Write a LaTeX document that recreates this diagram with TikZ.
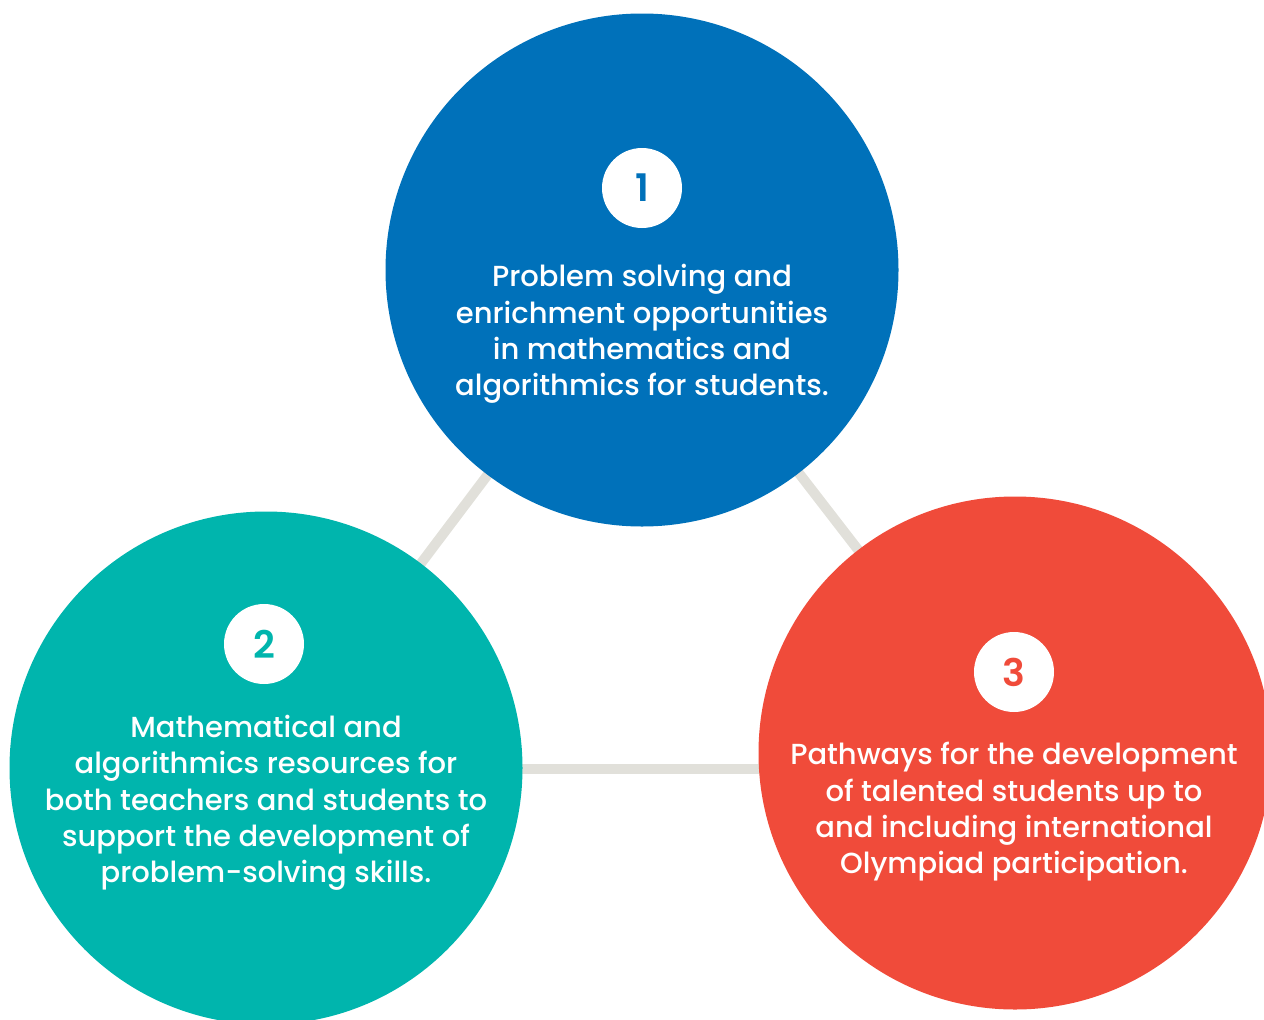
\documentclass[tikz,border=0pt]{standalone}
\usepackage{fontspec}
\setmainfont{Poppins Medium}[BoldFont=Poppins SemiBold]
\definecolor{cblue}{HTML}{0071BA}
\definecolor{cteal}{HTML}{00B5AD}
\definecolor{cred}{HTML}{F04B3A}
\definecolor{cline}{HTML}{E1E0DA}
\tikzset{
  conn/.style={draw=cline, line width=10pt},
  bigc/.style={circle, minimum size=513pt, inner sep=0pt},
  numc/.style={circle, fill=white, minimum size=80pt, inner sep=0pt, font=\fontsize{38}{40}\selectfont\bfseries},
  txt/.style={text=white, align=center, font=\fontsize{29}{36.3}\selectfont}
}
\begin{document}
\begin{tikzpicture}[x=1pt,y=-1pt]
\useasboundingbox (0,0) rectangle (1264,1020);
\coordinate (c1) at (642,270);
\coordinate (c2) at (266,769);
\coordinate (c3) at (1015,753);
\coordinate (h3) at (1015,769);
\draw[conn] (c1) -- (c2);
\draw[conn] (c1) -- (c3);
\draw[conn] (c2) -- (h3);
\node[bigc, fill=cblue] (n1) at (c1) {};
\node[bigc, fill=cteal] (n2) at (266,768) {};
\node[bigc, fill=cred] (n3) at (c3) {};
\node[numc, text=cblue] (k1) at (642,188) {1};
\node[numc, text=cteal] (k2) at (264,644) {2};
\node[numc, text=cred] (k3) at (1014,672) {3};
\node[txt] (t1) at (642,334) {Problem solving and\\enrichment opportunities\\in mathematics and\\algorithmics for students.};
\node[txt] (t2) at (266,803) {Mathematical and\\algorithmics resources for\\both teachers and students to\\support the development of\\problem-solving skills.};
\node[txt] (t3) at (1014,812) {Pathways for the development\\of talented students up to\\and including international\\Olympiad participation.};
\end{tikzpicture}
\end{document}
